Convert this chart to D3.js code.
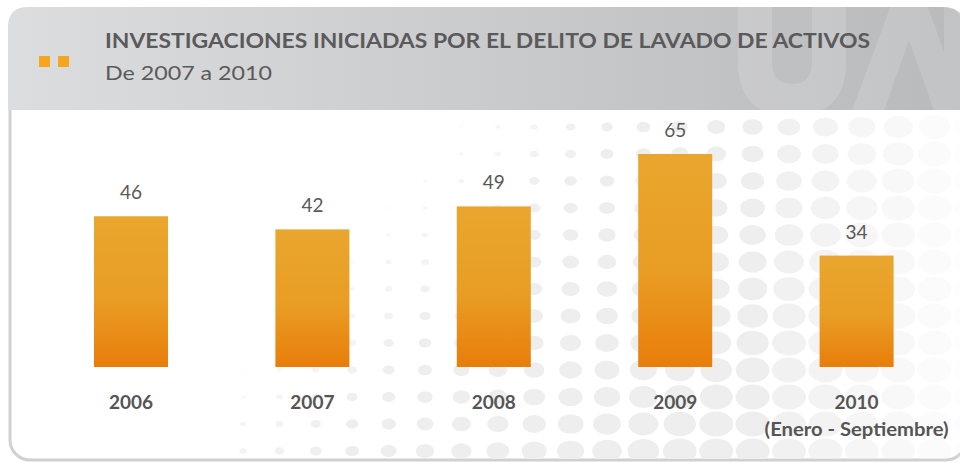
<!DOCTYPE html>
<html><head><meta charset="utf-8">
<script src="https://cdn.jsdelivr.net/npm/d3@7"></script>
<style>html,body{margin:0;padding:0;background:#fff;}svg{display:block;}</style>
</head><body>
<svg id="chart" width="960" height="463"></svg>
<script>
const years = ["2006", "2007", "2008", "2009", "2010"];
const values = [46, 42, 49, 65, 34];
const subLabels = ["", "", "", "", "(Enero - Septiembre)"];
const title = "INVESTIGACIONES INICIADAS POR EL DELITO DE LAVADO DE ACTIVOS";
const subtitle = "De 2007 a 2010";

const W = 960, H = 463;
const svg = d3.select("#chart");
const defs = svg.append("defs");
const font = "Lato, 'Open Sans', sans-serif";

// gradients
const hg = defs.append("linearGradient").attr("id", "hdr").attr("x1", 0).attr("x2", 1).attr("y1", 0).attr("y2", 0);
hg.append("stop").attr("offset", 0).attr("stop-color", "#dcdddf");
hg.append("stop").attr("offset", 0.5).attr("stop-color", "#cacbcd");
hg.append("stop").attr("offset", 1).attr("stop-color", "#b9babc");
const bg = defs.append("linearGradient").attr("id", "bar").attr("x1", 0).attr("x2", 0).attr("y1", 0).attr("y2", 1);
bg.append("stop").attr("offset", 0).attr("stop-color", "#e9a62e");
bg.append("stop").attr("offset", 0.55).attr("stop-color", "#e99d24");
bg.append("stop").attr("offset", 1).attr("stop-color", "#e87d0a");
defs.append("clipPath").attr("id", "bodyClip").append("rect").attr("x", 12).attr("y", 111).attr("width", 950).attr("height", 348);
const hdrPath = "M8,110 L8,27 Q8,7 28,7 L942,7 Q962,7 962,27 L962,110 Z";
defs.append("clipPath").attr("id", "hdrClip").append("path").attr("d", hdrPath);

// panel
svg.append("rect").attr("x", 10).attr("y", 9).attr("width", 956).attr("height", 451).attr("rx", 20)
  .attr("fill", "#fff").attr("stroke", "#d0d0d0").attr("stroke-width", 3);

// dot pattern decoration
const dots = [];
for (let r = 0; r < 13; r++) {
  for (let c = 0; c < 21; c++) {
    const k = c + 0.67 * r - 5.6;
    if (k <= 0) continue;
    const x = 243 + 36.4 * c, y = 127 + 27 * r;
    const w = Math.min(34, 2 + 2.2 * k);
    const fade = Math.max(0, Math.min(1, (1000 - x) / 250));
    dots.push({x, y, rx: w / 2, ry: Math.min(12.5, w * 0.38), op: fade * Math.min(1, 0.3 + k * 0.15)});
  }
}
svg.append("g").attr("clip-path", "url(#bodyClip)").selectAll("ellipse").data(dots).join("ellipse")
  .attr("cx", d => d.x).attr("cy", d => d.y).attr("rx", d => d.rx).attr("ry", d => d.ry)
  .attr("fill", "#eeeeef").attr("opacity", d => d.op);

// header
svg.append("path").attr("d", hdrPath).attr("fill", "url(#hdr)");
const logo = svg.append("g").attr("clip-path", "url(#hdrClip)").attr("fill", "#ffffff").attr("opacity", 0.14);
logo.append("path").attr("d", "M738,0 L772,0 L772,62 Q772,84 792,84 Q812,84 812,62 L812,0 L846,0 L846,62 Q846,116 792,116 Q738,116 738,62 Z");
logo.append("path").attr("d", "M850,116 L893,0 L925,0 L968,116 L936,116 L909,40 L882,116 Z");
logo.append("path").attr("d", "M944,0 L970,0 L970,116 L944,116 Z");
svg.append("rect").attr("x", 39).attr("y", 56).attr("width", 11).attr("height", 11).attr("fill", "#f7a51c");
svg.append("rect").attr("x", 58).attr("y", 56).attr("width", 11).attr("height", 11).attr("fill", "#f7a51c");
svg.append("text").attr("x", 105).attr("y", 48).attr("font-family", font).attr("font-weight", 700)
  .attr("font-size", 20).attr("fill", "#5a5a5a").attr("textLength", 765).attr("lengthAdjust", "spacingAndGlyphs").text(title);
svg.append("text").attr("x", 105).attr("y", 80).attr("font-family", font).attr("font-weight", 400)
  .attr("font-size", 20).attr("fill", "#5a5a5a").attr("textLength", 167).attr("lengthAdjust", "spacingAndGlyphs").text(subtitle);

// scales
const x = d3.scaleBand().domain(years).range([40.3, 947.3]).paddingInner(0.592).paddingOuter(0.296);
const y = d3.scaleLinear().domain([0, 65]).range([367, 154]);
const data = years.map((yr, i) => ({yr, v: values[i], sub: subLabels[i]}));

const g = svg.append("g");
g.selectAll("rect.bar").data(data).join("rect").attr("class", "bar")
  .attr("x", d => x(d.yr)).attr("width", x.bandwidth())
  .attr("y", d => y(d.v)).attr("height", d => y(0) - y(d.v))
  .attr("fill", "url(#bar)");
g.selectAll("text.val").data(data).join("text").attr("class", "val")
  .attr("x", d => x(d.yr) + x.bandwidth() / 2).attr("y", d => y(d.v) - 17)
  .attr("text-anchor", "middle").attr("font-family", font).attr("font-size", 19)
  .attr("fill", "#595959").text(d => d.v);

// axis (category labels)
const axis = d3.axisBottom(x).tickSize(0).tickPadding(0);
const ax = svg.append("g").attr("transform", "translate(0,367)").call(axis);
ax.select(".domain").remove();
ax.selectAll(".tick text").attr("dy", 0).attr("y", 42).attr("font-family", font).attr("font-weight", 700)
  .attr("font-size", 19).attr("fill", "#555555");
g.selectAll("text.sub").data(data.filter(d => d.sub)).join("text").attr("class", "sub")
  .attr("x", d => x(d.yr) + x.bandwidth() / 2).attr("y", 436)
  .attr("text-anchor", "middle").attr("font-family", font).attr("font-weight", 700)
  .attr("font-size", 19).attr("fill", "#555555").attr("textLength", 184).attr("lengthAdjust", "spacingAndGlyphs")
  .text(d => d.sub);
</script>
</body></html>
